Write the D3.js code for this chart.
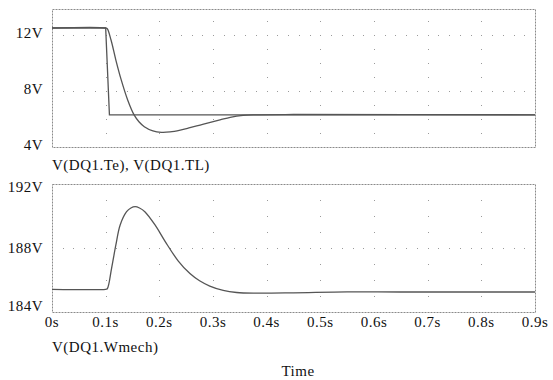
<!DOCTYPE html>
<html>
<head>
<meta charset="utf-8">
<script src="https://cdn.jsdelivr.net/npm/d3@7"></script>
<style>
  body { margin: 0; background: #fff; }
</style>
</head>
<body>
<div id="graph"></div>
<script>
// Values
let timeTicks = [0, 0.1, 0.2, 0.3, 0.4, 0.5, 0.6, 0.7, 0.8, 0.9];
let topTicks = [4, 8, 12];
let bottomTicks = [184, 188, 192];

// V(DQ1.TL) - load torque
let tlTime = [0, 0.1, 0.107, 0.9];
let tlValue = [12.5, 12.5, 6.3, 6.3];

// V(DQ1.Te) - electrical torque
let teTime = [0, 0.1, 0.103, 0.11, 0.119, 0.129, 0.141, 0.153, 0.162, 0.172, 0.188, 0.204, 0.22, 0.239, 0.257, 0.276, 0.295, 0.313, 0.332, 0.356, 0.38, 0.45, 0.9];
let teValue = [12.5, 12.5, 12.45, 11.64, 10.21, 8.79, 7.36, 6.29, 5.8, 5.45, 5.15, 5.05, 5.08, 5.21, 5.38, 5.57, 5.76, 5.93, 6.12, 6.26, 6.3, 6.32, 6.3];

// V(DQ1.Wmech) - mechanical speed
let wTime = [0, 0.1, 0.103, 0.111, 0.119, 0.127, 0.139, 0.147, 0.155, 0.163, 0.173, 0.192, 0.211, 0.235, 0.257, 0.275, 0.294, 0.319, 0.344, 0.38, 0.45, 0.55, 0.65, 0.9];
let wValue = [185.42, 185.42, 185.45, 186.73, 188.19, 189.44, 190.27, 190.5, 190.58, 190.5, 190.27, 189.44, 188.4, 187.2, 186.4, 185.95, 185.62, 185.35, 185.22, 185.18, 185.2, 185.26, 185.25, 185.25];

let width = 553, height = 380;
let left = 52, right = 535;

let svg = d3.select("#graph").append("svg")
  .attr("width", width)
  .attr("height", height);

let x = d3.scaleLinear().domain([0, 0.9]).range([left, right]);

// top panel: 4V..12V mapped, frame extends above 12V
let yTop = d3.scaleLinear().domain([4, 12]).range([147, 35]);
let yBot = d3.scaleLinear().domain([184, 192]).range([312, 184]);

let dotColor = "#9a9a9a";
let frameColor = "#8a8a8a";
let lineColor = "#555";
let textColor = "#111";

let label = (sel) => sel
  .attr("fill", textColor)
  .attr("font-family", "Liberation Serif")
  .attr("font-size", 15)
  .attr("letter-spacing", 0.5);

// Draw a panel: dotted frame, grid dots, y labels
let drawPanel = (y, top, bottom, ticks, minorFrom, minorTo, labelShift) => {
  let g = svg.append("g");

  // vertical grid dots at every 0.1s, every 1V
  let minor = d3.range(minorFrom, minorTo + 1);
  timeTicks.slice(1, -1).forEach(t => {
    g.selectAll(null).data(minor).enter().append("rect")
      .attr("x", Math.round(x(t)))
      .attr("y", d => Math.round(y(d)))
      .attr("width", 1).attr("height", 1)
      .attr("fill", dotColor);
  });

  // horizontal grid dots at inner major ticks, every 0.02s
  let steps = d3.range(1, 45).map(i => i * 0.02);
  ticks.forEach(v => {
    let py = Math.round(y(v));
    if (py <= top + 1 || py >= bottom - 1) return;
    g.selectAll(null).data(steps).enter().append("rect")
      .attr("x", d => Math.round(x(d)))
      .attr("y", py)
      .attr("width", 1).attr("height", 1)
      .attr("fill", dotColor);
  });

  // dotted frame
  g.append("rect")
    .attr("x", left + 0.5).attr("y", top + 0.5)
    .attr("width", right - left).attr("height", bottom - top)
    .attr("fill", "none")
    .attr("stroke", frameColor)
    .attr("stroke-width", 1)
    .attr("stroke-dasharray", "2,1");

  // y labels
  g.selectAll(null).data(ticks).enter().append("text")
    .attr("x", left - 9)
    .attr("y", (d, i) => y(d) + 5 + labelShift[i])
    .attr("text-anchor", "end")
    .call(label)
    .text(d => d + "V");
};

drawPanel(yTop, 9, 147, topTicks, 5, 13, [-2, -2, -2]);
drawPanel(yBot, 184, 312, bottomTicks, 185, 191, [-6, 0, 3]);

let series = [
  { t: tlTime, v: tlValue, y: yTop, curve: d3.curveLinear },
  { t: teTime, v: teValue, y: yTop, curve: d3.curveCatmullRom.alpha(0.5) },
  { t: wTime, v: wValue, y: yBot, curve: d3.curveCatmullRom.alpha(0.5) }
];

series.forEach(s => {
  let gen = d3.line()
    .x(d => x(d[0]))
    .y(d => s.y(d[1]))
    .curve(s.curve);
  svg.append("path")
    .datum(d3.zip(s.t, s.v))
    .attr("d", gen)
    .attr("fill", "none")
    .attr("stroke", lineColor)
    .attr("stroke-width", 1.3);
});

// x tick labels
svg.selectAll(".xlab").data(timeTicks).enter().append("text")
  .attr("class", "xlab")
  .attr("x", d => x(d))
  .attr("y", 327)
  .attr("text-anchor", "middle")
  .call(label)
  .text(d => d + "s");

// trace names and axis title
svg.append("text").attr("x", 52).attr("y", 170).call(label).text("V(DQ1.Te), V(DQ1.TL)");
svg.append("text").attr("x", 52).attr("y", 352).call(label).text("V(DQ1.Wmech)");
svg.append("text").attr("x", 298).attr("y", 376).attr("text-anchor", "middle").call(label).text("Time");
</script>
</body>
</html>
